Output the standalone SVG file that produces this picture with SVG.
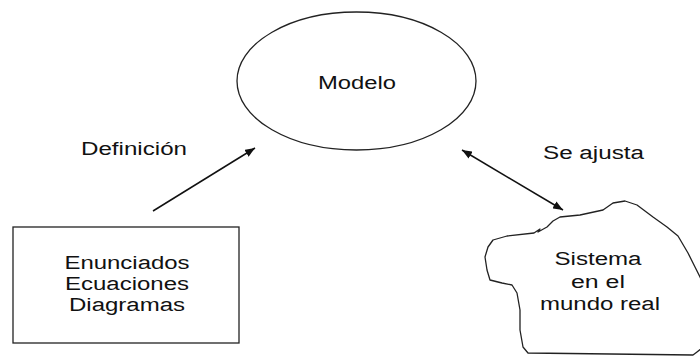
<svg xmlns="http://www.w3.org/2000/svg" width="700" height="356" viewBox="0 0 700 356">
<defs>
<style>
.t{font-family:"Liberation Sans",Arial,sans-serif;font-size:18px;fill:#111;text-anchor:middle}
.s{fill:#fff;stroke:#222;stroke-width:1.3}
.c{stroke:#111;stroke-width:1.5;fill:none}
</style>
<marker id="ah" viewBox="0 0 10 8" refX="10" refY="4" markerWidth="10" markerHeight="8" markerUnits="userSpaceOnUse" orient="auto-start-reverse">
<path d="M0,0 L10,4 L0,8 Z" fill="#111"/>
</marker>
</defs>
<rect width="700" height="356" fill="#fff"/>
<g id="modelo">
<ellipse class="s" cx="356.5" cy="81" rx="119.5" ry="69"/>
<text class="t" x="357" y="89" textLength="78" lengthAdjust="spacingAndGlyphs">Modelo</text>
</g>
<g id="enunciados">
<rect class="s" x="13" y="227" width="226" height="116"/>
<text class="t" x="127" y="269" textLength="125" lengthAdjust="spacingAndGlyphs">Enunciados</text>
<text class="t" x="127" y="290" textLength="124" lengthAdjust="spacingAndGlyphs">Ecuaciones</text>
<text class="t" x="127" y="311" textLength="116" lengthAdjust="spacingAndGlyphs">Diagramas</text>
</g>
<g id="sistema">
<path class="s" stroke-linejoin="round" d="M528,353 L523,347 L520,330 L520,310 L517,293 L512,285 L502,283 L490,280 L487,270 L485,257 L488,247 L493,240 L507,236 L534,233 L540,229 L538,232 L547,227 L553,221 L560,217 L580,215 L603,210 L613,203 L625,201 L637,205 L653,217 L667,227 L678,236 L688,253 L695,267 L700,277 L706,290 L706,345 L697,352 L693,355 Z"/>
<text class="t" x="598" y="265" textLength="87" lengthAdjust="spacingAndGlyphs">Sistema</text>
<text class="t" x="598" y="288" textLength="54" lengthAdjust="spacingAndGlyphs">en el</text>
<text class="t" x="600" y="310" textLength="120" lengthAdjust="spacingAndGlyphs">mundo real</text>
</g>
<g id="connectors">
<line class="c" x1="153" y1="211" x2="255" y2="148" marker-end="url(#ah)"/>
<line class="c" x1="462" y1="150" x2="563" y2="210" marker-start="url(#ah)" marker-end="url(#ah)"/>
<text class="t" x="134" y="155" textLength="106" lengthAdjust="spacingAndGlyphs">Definición</text>
<text class="t" x="593.5" y="159" textLength="101" lengthAdjust="spacingAndGlyphs">Se ajusta</text>
</g>
</svg>
